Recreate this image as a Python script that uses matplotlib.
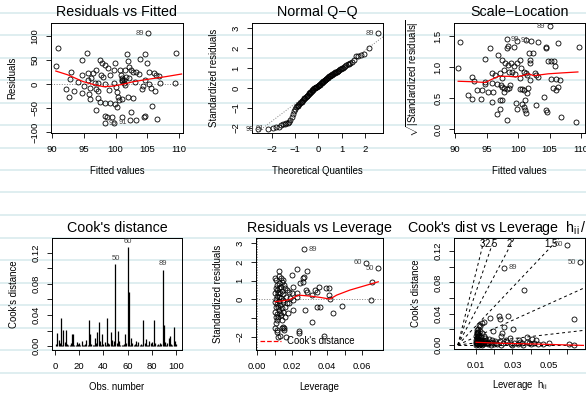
import matplotlib
matplotlib.use('Agg')
import matplotlib.pyplot as plt
from matplotlib.lines import Line2D

plt.rcParams['font.family'] = ['Liberation Sans', 'DejaVu Sans']
plt.rcParams['mathtext.fontset'] = 'custom'
plt.rcParams['mathtext.rm'] = 'Liberation Sans'
plt.rcParams['mathtext.it'] = 'Liberation Sans:italic'
plt.rcParams['mathtext.sf'] = 'Liberation Sans'

# ---- Residuals vs Fitted ----
fitted1 = [105.1, 90.9, 90.6, 95.5, 94.8, 93.0, 92.8, 92.2, 93.5, 92.7,
           94.8, 94.7, 95.6, 95.7, 96.0, 96.0, 95.9, 96.8, 97.0, 97.3,
           97.2, 96.9, 97.6, 97.9, 98.3, 98.8, 97.7, 98.1, 98.3, 97.6,
           98.3, 97.0, 98.3, 98.6, 99.5, 99.1, 99.9, 100.1, 100.3, 100.4,
           100.6, 101.1, 100.9, 101.0, 101.1, 101.3, 101.4, 101.6, 101.5, 101.8,
           101.9, 102.1, 102.4, 102.8, 103.0, 103.3, 103.7, 103.9, 104.6, 104.9,
           105.2, 105.3, 105.6, 106.1, 106.3, 106.9, 106.2, 107.0, 105.8, 104.6,
           104.5, 103.3, 102.4, 102.3, 101.0, 100.2, 99.9, 98.3, 99.8, 106.6,
           109.3, 109.6, 104.1, 104.4, 102.0, 102.7, 101.1, 99.7, 99.2, 96.2,
           96.5, 94.1, 95.1, 99.0, 99.7, 100.7, 102.1, 101.5, 104.6, 97.3]
resid1 = [105.6, 75.7, 37.5, 65.3, 49.3, 24.3, 9.7, -10.4, -14.6, -27.1,
          -19.4, 18.8, 22.2, 8.3, -7.6, -30.6, -20.8, 2.8, -10.4, -13.9,
          -29.9, 29.2, 50.0, 43.1, 39.6, 32.6, 18.8, 15.3, 0.0, -36.8,
          -40.3, -54.2, -66.7, -68.1, -68.1, -40.3, 44.4, -6.9, -16.0, -27.8,
          -33.3, -31.9, 18.8, 11.8, 6.3, 1.4, 8.3, 15.3, 29.2, 62.5,
          48.6, 36.1, 29.2, 25.7, 4.9, 24.3, 20.8, 51.4, 61.8, 43.1,
          25.7, 0.0, -7.6, 23.6, 18.8, 16.7, -14.6, 1.4, -45.8, -66.0,
          -68.1, -75.0, -57.6, -75.0, -68.1, -48.6, -41.7, -81.9, -80.6, -73.6,
          1.4, 63.9, -11.1, -4.2, -27.8, -28.5, 8.3, 1.4, 18.8, 11.8,
          22.2, 4.9, -4.2, -12.5, 29.2, 29.2, 11.8, -2.1, 8.3, 1.4]
smooth1_x = [90.6, 92.5, 94.9, 96.8, 98.1, 99.5, 101.0, 102.8, 105.4, 108.0, 110.4]
smooth1_y = [27, 19, 5, -2, -5.5, -4.5, -1, 4.8, 10.4, 15.5, 20.8]
labels1 = {0: '89', 77: '99', 78: '91'}

# ---- Normal Q-Q ----
theo2 = [-2.576, -2.170, -1.960, -1.812, -1.695, -1.598, -1.514, -1.440, -1.372, -1.311,
         -1.254, -1.200, -1.150, -1.103, -1.058, -1.015, -0.974, -0.935, -0.896, -0.860,
         -0.824, -0.789, -0.755, -0.722, -0.690, -0.659, -0.628, -0.598, -0.568, -0.539,
         -0.510, -0.482, -0.454, -0.426, -0.399, -0.372, -0.345, -0.319, -0.292, -0.266,
         -0.240, -0.215, -0.189, -0.164, -0.138, -0.113, -0.088, -0.063, -0.038, -0.013,
         0.013, 0.038, 0.063, 0.088, 0.113, 0.138, 0.164, 0.189, 0.215, 0.240,
         0.266, 0.292, 0.319, 0.345, 0.372, 0.399, 0.426, 0.454, 0.482, 0.510,
         0.539, 0.568, 0.598, 0.628, 0.659, 0.690, 0.722, 0.755, 0.789, 0.824,
         0.860, 0.896, 0.935, 0.974, 1.015, 1.058, 1.103, 1.150, 1.200, 1.254,
         1.311, 1.372, 1.440, 1.514, 1.598, 1.695, 1.812, 1.960, 2.170, 2.576]
stdres2 = [-2.07, -2.03, -2.00, -1.97, -1.95, -1.85, -1.80, -1.78, -1.76, -1.74,
           -1.70, -1.60, -1.45, -1.28, -1.15, -1.05, -0.97, -0.92, -0.88, -0.84,
           -0.80, -0.76, -0.72, -0.68, -0.64, -0.60, -0.56, -0.52, -0.48, -0.45,
           -0.42, -0.38, -0.35, -0.30, -0.26, -0.24, -0.21, -0.18, -0.15, -0.12,
           -0.09, -0.05, -0.02, 0.00, 0.02, 0.04, 0.05, 0.07, 0.09, 0.11,
           0.13, 0.15, 0.17, 0.20, 0.23, 0.26, 0.29, 0.31, 0.34, 0.36,
           0.39, 0.41, 0.44, 0.46, 0.49, 0.52, 0.55, 0.58, 0.60, 0.62,
           0.64, 0.66, 0.69, 0.71, 0.73, 0.75, 0.78, 0.80, 0.82, 0.84,
           0.87, 0.90, 0.93, 0.96, 0.99, 1.02, 1.06, 1.10, 1.14, 1.18,
           1.22, 1.27, 1.32, 1.38, 1.60, 1.62, 1.65, 1.70, 1.98, 2.73]
qqline_x = [-2.9, 2.9]
qqline_y = [-2.46, 2.675]
labels2 = {99: '89', 1: '91', 0: '99'}

# ---- Scale-Location ----
fitted3 = [105.0, 90.8, 90.5, 98.2, 98.4, 98.3, 99.3, 99.8, 101.3, 102.1,
           103.2, 104.5, 104.5, 106.4, 109.6, 95.5, 94.7, 96.9, 97.4, 98.0,
           98.4, 98.9, 99.3, 99.8, 100.3, 100.5, 100.9, 101.2, 101.7, 102.4,
           102.7, 102.8, 104.8, 105.3, 105.7, 105.9, 101.9, 92.7, 93.0, 95.9,
           96.3, 97.2, 97.4, 97.7, 98.5, 99.0, 99.6, 100.3, 101.4, 101.9,
           103.2, 105.2, 106.1, 106.6, 94.7, 94.7, 95.9, 96.7, 97.3, 97.4,
           97.7, 98.2, 97.7, 98.5, 98.8, 100.3, 100.7, 101.0, 101.6, 101.5,
           95.3, 96.1, 94.3, 93.5, 92.1, 92.7, 94.2, 95.9, 97.1, 97.4,
           99.7, 100.7, 101.1, 101.0, 101.1, 101.2, 99.8, 102.8, 104.2, 104.4,
           104.6, 105.6, 106.1, 106.4, 106.9, 109.2, 97.2, 96.7, 98.2, 101.9]
sqrtres3 = [1.66, 1.41, 0.99, 1.45, 1.34, 1.31, 1.32, 1.42, 1.43, 1.42,
            1.41, 1.33, 1.30, 1.39, 1.32, 1.30, 1.13, 1.19, 1.12, 1.06,
            1.03, 1.07, 1.02, 1.07, 1.11, 0.98, 0.92, 0.90, 1.23, 1.22,
            0.91, 0.87, 1.10, 1.09, 1.10, 1.01, 1.11, 0.84, 0.78, 0.91,
            0.87, 0.90, 0.83, 0.95, 0.92, 0.92, 0.89, 0.82, 0.87, 0.79,
            0.84, 0.80, 0.80, 0.79, 0.76, 0.72, 0.74, 0.72, 0.71, 0.68,
            0.66, 0.64, 0.60, 0.66, 0.71, 0.64, 0.64, 0.63, 0.66, 0.58,
            0.60, 0.60, 0.63, 0.63, 0.55, 0.48, 0.49, 0.44, 0.46, 0.47,
            0.42, 0.41, 0.47, 0.35, 0.31, 0.25, 0.33, 0.39, 0.51, 0.30,
            0.28, 0.66, 0.63, 0.68, 0.20, 0.11, 0.32, 0.24, 0.15, 1.06]
smooth3_x = [90.5, 93.3, 94.8, 95.6, 96.9, 98.5, 99.6, 100.7, 101.7, 102.5, 104.8, 107.0, 109.5]
smooth3_y = [0.77, 0.76, 0.75, 0.79, 0.85, 0.85, 0.84, 0.86, 0.89, 0.86, 0.89, 0.905, 0.92]
labels3 = {0: '89', 3: '99', 7: '91'}

# ---- Cook's distance ----
obs4 = list(range(1, 101))
cook4 = [0.003, 0.017, 0.008, 0.004, 0.036, 0.002, 0.021, 0.005, 0.021, 0.003,
         0.001, 0.002, 0.004, 0.015, 0.016, 0.002, 0.001, 0.005, 0.003, 0.004,
         0.001, 0.007, 0.002, 0.001, 0.003, 0.008, 0.002, 0.034, 0.015, 0.003,
         0.002, 0.001, 0.010, 0.004, 0.018, 0.031, 0.006, 0.002, 0.016, 0.003,
         0.005, 0.001, 0.036, 0.004, 0.003, 0.018, 0.008, 0.002, 0.006, 0.105,
         0.004, 0.019, 0.007, 0.001, 0.002, 0.001, 0.003, 0.016, 0.004, 0.127,
         0.070, 0.002, 0.011, 0.004, 0.001, 0.003, 0.006, 0.002, 0.005, 0.001,
         0.003, 0.002, 0.033, 0.004, 0.009, 0.002, 0.001, 0.006, 0.004, 0.005,
         0.002, 0.033, 0.004, 0.001, 0.003, 0.002, 0.004, 0.003, 0.098, 0.027,
         0.005, 0.002, 0.004, 0.011, 0.013, 0.003, 0.002, 0.025, 0.006, 0.003]
labels4 = {49: '50', 59: '60', 88: '89'}

# ---- Residuals vs Leverage ----
lev5 = [0.0269, 0.0623, 0.0693, 0.0655, 0.0650,
        0.0200, 0.0230, 0.0265, 0.0261, 0.0269, 0.0246, 0.0288, 0.0280, 0.0288, 0.0208,
        0.0227, 0.0230, 0.0274, 0.0316, 0.0331, 0.0341, 0.0354, 0.0341, 0.0360, 0.0394,
        0.0413, 0.0413, 0.0432, 0.0417, 0.0488, 0.0316, 0.0383, 0.0242, 0.0242, 0.0166,
        0.0147, 0.0156, 0.0204, 0.0208, 0.0198, 0.0183,
        0.0103, 0.0109, 0.0112, 0.0107, 0.0116, 0.0105, 0.0112, 0.0109, 0.0103, 0.0116,
        0.0109, 0.0105, 0.0112, 0.0107, 0.0112, 0.0109, 0.0105, 0.0112, 0.0116, 0.0122,
        0.0131, 0.0128, 0.0135, 0.0141, 0.0128, 0.0135, 0.0124, 0.0141, 0.0131, 0.0150,
        0.0128, 0.0139, 0.0124, 0.0147, 0.0131, 0.0141, 0.0128, 0.0150, 0.0135, 0.0122,
        0.0141, 0.0160, 0.0170, 0.0156, 0.0166, 0.0173, 0.0160, 0.0179, 0.0150, 0.0189,
        0.0160, 0.0120, 0.0120, 0.0150, 0.0185, 0.0141, 0.0156, 0.0128, 0.0131]
stdres5 = [2.66, 1.95, 1.65, 0.94, -0.03,
           1.30, 1.60, 1.12, 0.94, 1.21, 0.89, 1.53, 0.50, 0.41, 0.68,
           0.32, 0.15, -0.56, 0.23, 0.50, 0.41, 0.68, -0.39, -0.42, 0.59,
           0.59, 0.25, -0.71, 0.00, -0.34, -1.19, -1.95, -1.68, -1.77, -1.98,
           -1.45, -1.50, -0.03, -0.56, 0.32, 0.41,
           1.12, 1.03, 0.77, 0.59, 0.50, 0.32, 0.18, 0.00, -0.12, -0.24,
           -0.42, -0.65, -0.78, -0.95, -1.10, -1.27, -1.54, -1.63, -1.72, -1.98,
           -1.95, 1.24, 1.12, 0.94, 0.85, 0.68, 0.59, 0.46, 0.36, 0.29,
           0.15, 0.06, -0.07, -0.12, -0.30, -0.47, -0.56, -0.65, -0.83, -0.95,
           -1.07, 0.59, 0.50, 0.77, 0.15, -0.21, -0.39, -0.71, -0.03, 0.06,
           -0.92, 0.36, -0.39, 1.03, -0.21, -1.54, -1.63, 1.53, -0.74]
smooth5_x = [0.0103, 0.0150, 0.0189, 0.0236, 0.0303, 0.0360, 0.0417, 0.0455, 0.0531, 0.0693]
smooth5_y = [-0.12, -0.07, 0.0, 0.23, 0.18, 0.11, 0.02, 0.23, 0.5, 0.94]
labels5 = {0: '89', 1: '60', 2: '50'}

# ---- Cook's dist vs Leverage ----
hratio6 = [0.0600, 0.0673, 0.0255, 0.0364, 0.0640,
           0.0178, 0.0227, 0.0233, 0.0276, 0.0131, 0.0124, 0.0142, 0.0196, 0.0255, 0.0302,
           0.0245, 0.0382, 0.0410, 0.0336, 0.0236, 0.0287,
           0.0500, 0.0470, 0.0640, 0.0420, 0.0400, 0.0380, 0.0350, 0.0330, 0.0310, 0.0290,
           0.0270, 0.0250, 0.0230, 0.0210, 0.0200, 0.0190, 0.0180, 0.0175, 0.0170, 0.0165,
           0.0160, 0.0155, 0.0150, 0.0148, 0.0145, 0.0142, 0.0140, 0.0138, 0.0135, 0.0133,
           0.0130, 0.0128, 0.0126, 0.0124, 0.0122, 0.0120, 0.0118, 0.0116, 0.0115, 0.0113,
           0.0112, 0.0111, 0.0110, 0.0109, 0.0108, 0.0107, 0.0106, 0.0105, 0.0104, 0.0103,
           0.0102, 0.0101, 0.0100, 0.0100, 0.0101, 0.0103, 0.0106, 0.0110, 0.0115, 0.0120,
           0.0125, 0.0135, 0.0150, 0.0165, 0.0185, 0.0205, 0.0215, 0.0240, 0.0265, 0.0300,
           0.0340, 0.0360, 0.0390, 0.0430, 0.0440, 0.0610, 0.0105, 0.0112, 0.0118]
cook6 = [0.128, 0.106, 0.099, 0.070, 0.033,
         0.035, 0.037, 0.033, 0.037, 0.028, 0.024, 0.030, 0.018, 0.023, 0.021,
         0.015, 0.010, 0.008, 0.007, 0.011, 0.0085,
         0.002, 0.001, 0.0005, 0.003, 0.001, 0.004, 0.002, 0.0015, 0.003, 0.001,
         0.004, 0.002, 0.005, 0.003, 0.001, 0.006, 0.002, 0.004, 0.008, 0.001,
         0.003, 0.006, 0.002, 0.009, 0.004, 0.012, 0.001, 0.007, 0.003, 0.015,
         0.005, 0.002, 0.010, 0.004, 0.018, 0.001, 0.006, 0.013, 0.003, 0.008,
         0.002, 0.016, 0.005, 0.011, 0.001, 0.007, 0.014, 0.003, 0.009, 0.019,
         0.002, 0.006, 0.012, 0.004, 0.0005, 0.015, 0.0015, 0.010, 0.0005, 0.007,
         0.0015, 0.0005, 0.0045, 0.0025, 0.0005, 0.0055, 0.001, 0.0005, 0.006, 0.0005,
         0.004, 0.0005, 0.002, 0.0065, 0.0015, 0.001, 0.017, 0.021, 0.025]
smooth6_x = [0.0100, 0.0236, 0.0418, 0.0690]
smooth6_y = [0.0035, 0.0022, 0.0013, -0.0005]
contour_slopes = [9.3, 6.8, 4.4, 2.45, 1.05, 0.27, 0.0]
contour_labels = ['3', '2.5', '2', '1.5', '1', '0.5', '0']
labels6 = {0: '60', 1: '50', 2: '89'}

W, H = 586, 394
fig = plt.figure(figsize=(W / 100, H / 100), dpi=100, facecolor='white')

# faint ruled-paper stripes behind everything
y = 12.5
while y < H:
    fig.add_artist(Line2D([0, 1], [1 - y / H, 1 - y / H], color='#dcedef', lw=1.3, zorder=-10))
    y += 22.5


def box(l, r, t, b):
    return [l / W, 1 - b / H, (r - l) / W, (b - t) / H]


def style(ax, title, xlab, ylab, xt, xtl, yt, ytl, xlim, ylim, tpad=5, xpad=9):
    ax.set_facecolor('none')
    ax.set_xlim(*xlim)
    ax.set_ylim(*ylim)
    ax.set_title(title, fontsize=10.3, pad=tpad)
    ax.set_xlabel(xlab, fontsize=6.9, labelpad=xpad)
    ax.set_ylabel(ylab, fontsize=6.9, labelpad=9)
    ax.set_xticks(xt)
    ax.set_xticklabels(xtl)
    ax.set_yticks(yt)
    ax.set_yticklabels(ytl, rotation=90, va='center')
    ax.tick_params(direction='out', length=3.5, width=0.6, labelsize=6.8, pad=5)
    for s in ax.spines.values():
        s.set_linewidth(0.7)


def circles(ax, x, y):
    ax.plot(x, y, 'o', mfc='none', mec='black', ms=3.6, mew=0.6, zorder=3)


def tag(ax, x, y, s, side):
    dx = 3 if side == 'right' else -3
    ax.annotate(s, (x, y), xytext=(dx, 0), textcoords='offset points',
                ha='left' if side == 'right' else 'right', va='center',
                fontsize=5.5, color='#444444')


# 1 Residuals vs Fitted
ax1 = fig.add_axes(box(51, 183, 23, 133))
style(ax1, 'Residuals vs Fitted', 'Fitted values', 'Residuals',
      [90, 95, 100, 105, 110], ['90', '95', '100', '105', '110'],
      [-100, -50, 0, 50, 100], ['\u2212100', '\u221250', '0', '50', '100'],
      (89.84, 110.63), (-102, 127))
ax1.axhline(0, color='grey', ls=':', lw=0.7)
circles(ax1, fitted1, resid1)
ax1.plot(smooth1_x, smooth1_y, color='red', lw=0.9, zorder=4)
for i, s in labels1.items():
    tag(ax1, fitted1[i], resid1[i], s, 'left' if fitted1[i] > 100.2 else 'right')

# 2 Normal Q-Q
ax2 = fig.add_axes(box(252, 383, 23, 133))
style(ax2, 'Normal Q\u2212Q', 'Theoretical Quantiles', 'Standardized residuals',
      [-2, -1, 0, 1, 2], ['\u22122', '\u22121', '0', '1', '2'],
      [-2, -1, 0, 1, 2, 3], ['\u22122', '\u22121', '0', '1', '2', '3'],
      (-2.85, 2.77), (-2.25, 3.25))
ax2.plot(qqline_x, qqline_y, color='grey', ls=':', lw=0.7)
circles(ax2, theo2, stdres2)
for i, s in labels2.items():
    tag(ax2, theo2[i], stdres2[i], s, 'left')

# 3 Scale-Location
ax3 = fig.add_axes(box(454, 585, 23, 133))
style(ax3, 'Scale\u2212Location', 'Fitted values',
      r'$\sqrt{|\mathrm{Standardized\ residuals}|}$',
      [90, 95, 100, 105, 110], ['90', '95', '100', '105', '110'],
      [0.0, 0.5, 1.0, 1.5], ['0.0', '0.5', '1.0', '1.5'],
      (89.84, 110.63), (-0.065, 1.71))
circles(ax3, fitted3, sqrtres3)
ax3.plot(smooth3_x, smooth3_y, color='red', lw=0.9, zorder=4)
for i, s in labels3.items():
    tag(ax3, fitted3[i], sqrtres3[i], s, 'left' if fitted3[i] > 100.2 else 'right')

# 4 Cook's distance
ax4 = fig.add_axes(box(52, 182, 238, 350))
style(ax4, "Cook's distance", 'Obs. number', "Cook's distance",
      [0, 20, 40, 60, 80, 100], ['0', '20', '40', '60', '80', '100'],
      [0, 0.02, 0.04, 0.06, 0.08, 0.10, 0.12], ['0.00', '', '0.04', '', '0.08', '', '0.12'],
      (-2.5, 105), (-0.005, 0.139), tpad=4, xpad=8)
ax4.vlines(obs4, 0, cook4, color='black', lw=0.9)
for i, s in labels4.items():
    ax4.annotate(s, (obs4[i], cook4[i]), xytext=(0, 2), textcoords='offset points',
                 ha='center', va='bottom', fontsize=5.5, color='#444444')

# 5 Residuals vs Leverage
ax5 = fig.add_axes(box(256, 383, 238, 350))
style(ax5, 'Residuals vs Leverage', 'Leverage', 'Standardized residuals',
      [0, 0.01, 0.02, 0.03, 0.04, 0.05, 0.06], ['0.00', '', '0.02', '', '0.04', '', '0.06'],
      [-2, -1, 0, 1, 2, 3], ['\u22122', '', '0', '1', '2', '3'],
      (-0.0006, 0.072), (-2.69, 3.27), tpad=4, xpad=8)
ax5.axhline(0, color='grey', ls=':', lw=0.7)
ax5.axvline(0, color='grey', ls=':', lw=0.7)
circles(ax5, lev5, stdres5)
ax5.plot(smooth5_x, smooth5_y, color='red', lw=0.9, zorder=4)
for i, s in labels5.items():
    tag(ax5, lev5[i], stdres5[i], s, 'right' if i == 0 else 'left')
ax5.plot([], [], color='red', ls='--', lw=0.9, label="Cook's distance")
ax5.legend(loc='lower left', frameon=False, fontsize=6.9, handlelength=2.2,
           handletextpad=0.6, borderaxespad=0.2, borderpad=0.2)

# 6 Cook's dist vs Leverage
ax6 = fig.add_axes(box(454, 585, 238, 349))
style(ax6, r"Cook's dist vs Leverage  $\mathrm{h_{ii}\,/\,(1-h_{ii})}$",
      r'Leverage  $\mathrm{h_{ii}}$', "Cook's distance",
      [0.01, 0.02, 0.03, 0.04, 0.05, 0.06], ['0.01', '', '0.03', '', '0.05', ''],
      [0, 0.02, 0.04, 0.06, 0.08, 0.10, 0.12], ['0.00', '', '0.04', '', '0.08', '', '0.12'],
      (-0.0021, 0.0699), (-0.0051, 0.1367), tpad=4, xpad=6)
for k, lab in zip(contour_slopes, contour_labels):
    ax6.plot([0, 0.08], [0, 0.08 * k], color='black', ls=(0, (3, 3)), lw=0.7, zorder=2)
    if k * 0.0699 > 0.13:
        ax6.text(0.125 / k, 0.1295, lab, ha='center', va='center', fontsize=6.9)
circles(ax6, hratio6, cook6)
ax6.plot(smooth6_x, smooth6_y, color='red', lw=0.9, zorder=4)
for i, s in labels6.items():
    tag(ax6, hratio6[i], cook6[i], s, 'right' if i == 2 else 'left')

fig.savefig('out.png', dpi=100, facecolor='white')
